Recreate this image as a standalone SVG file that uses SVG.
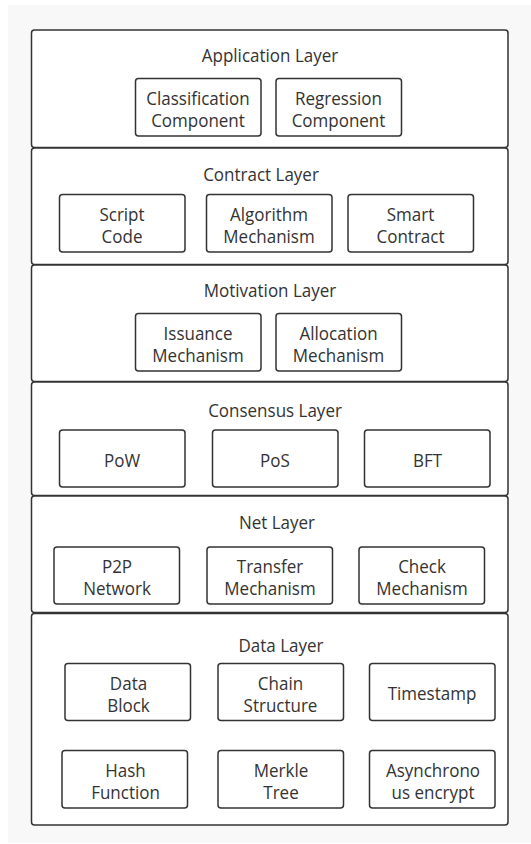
<svg xmlns="http://www.w3.org/2000/svg" width="531" height="844" viewBox="0 0 531 844">
<style>
.layer{fill:#fff;stroke:#333;stroke-width:1.5}
.box{fill:#fff;stroke:#333;stroke-width:1.5}
text{font-family:"Open Sans","Noto Sans","Liberation Sans",sans-serif;font-size:17px;fill:#333;text-anchor:middle}
</style>
<rect x="0" y="0" width="531" height="844" fill="#fff"/>
<rect x="8" y="5" width="523" height="838" fill="#f8f8f8"/>
<g id="application-layer">
<rect class="layer" x="31.5" y="30" width="476.5" height="117.5" rx="3"/>
<text transform="translate(270,62) scale(1,1.1)">Application Layer</text>
</g>
<g id="classification"><rect class="box" x="135.5" y="78.5" width="125.5" height="57.5" rx="3"/><text transform="translate(198,104.5) scale(1,1.1)">Classification</text><text transform="translate(198,126.5) scale(1,1.1)">Component</text></g>
<g id="regression"><rect class="box" x="276" y="78.5" width="125.5" height="57.5" rx="3"/><text transform="translate(338.5,104.5) scale(1,1.1)">Regression</text><text transform="translate(338.5,126.5) scale(1,1.1)">Component</text></g>

<g id="contract-layer">
<rect class="layer" x="31.5" y="148" width="476.5" height="116.5" rx="3"/>
<text transform="translate(261,180.5) scale(1,1.1)">Contract Layer</text>
</g>
<g id="script-code"><rect class="box" x="59.5" y="194.5" width="125.5" height="57.5" rx="3"/><text transform="translate(122,220.5) scale(1,1.1)">Script</text><text transform="translate(122,242.5) scale(1,1.1)">Code</text></g>
<g id="algorithm"><rect class="box" x="206.5" y="194.5" width="125.5" height="57.5" rx="3"/><text transform="translate(269,220.5) scale(1,1.1)">Algorithm</text><text transform="translate(269,242.5) scale(1,1.1)">Mechanism</text></g>
<g id="smart-contract"><rect class="box" x="348" y="194.5" width="125.5" height="57.5" rx="3"/><text transform="translate(410.5,220.5) scale(1,1.1)">Smart</text><text transform="translate(410.5,242.5) scale(1,1.1)">Contract</text></g>

<g id="motivation-layer">
<rect class="layer" x="31.5" y="265" width="476.5" height="116.5" rx="3"/>
<text transform="translate(270,297) scale(1,1.1)">Motivation Layer</text>
</g>
<g id="issuance"><rect class="box" x="135.5" y="313.5" width="125.5" height="57.5" rx="3"/><text transform="translate(198,339.5) scale(1,1.1)">Issuance</text><text transform="translate(198,361.5) scale(1,1.1)">Mechanism</text></g>
<g id="allocation"><rect class="box" x="276" y="313.5" width="125.5" height="57.5" rx="3"/><text transform="translate(338.5,339.5) scale(1,1.1)">Allocation</text><text transform="translate(338.5,361.5) scale(1,1.1)">Mechanism</text></g>

<g id="consensus-layer">
<rect class="layer" x="31.5" y="382" width="476.5" height="113.5" rx="3"/>
<text transform="translate(275,416.5) scale(1,1.1)">Consensus Layer</text>
</g>
<g id="pow"><rect class="box" x="59.5" y="430" width="125.5" height="57" rx="3"/><text transform="translate(122,466.5) scale(1,1.1)">PoW</text></g>
<g id="pos"><rect class="box" x="212.5" y="430" width="125.5" height="57" rx="3"/><text transform="translate(275,466.5) scale(1,1.1)">PoS</text></g>
<g id="bft"><rect class="box" x="364.5" y="430" width="125.5" height="57" rx="3"/><text transform="translate(427.5,466.5) scale(1,1.1)">BFT</text></g>

<g id="net-layer">
<rect class="layer" x="31.5" y="496" width="476.5" height="116.5" rx="3"/>
<text transform="translate(277,529) scale(1,1.1)">Net Layer</text>
</g>
<g id="p2p"><rect class="box" x="54" y="547" width="125.5" height="57" rx="3"/><text transform="translate(117,573) scale(1,1.1)">P2P</text><text transform="translate(117,595) scale(1,1.1)">Network</text></g>
<g id="transfer"><rect class="box" x="207" y="547" width="125.5" height="57" rx="3"/><text transform="translate(270,573) scale(1,1.1)">Transfer</text><text transform="translate(270,595) scale(1,1.1)">Mechanism</text></g>
<g id="check"><rect class="box" x="359" y="547" width="125.5" height="57" rx="3"/><text transform="translate(422,573) scale(1,1.1)">Check</text><text transform="translate(422,595) scale(1,1.1)">Mechanism</text></g>

<g id="data-layer">
<rect class="layer" x="31.5" y="613.5" width="476.5" height="211.5" rx="3"/>
<text transform="translate(281,652) scale(1,1.1)">Data Layer</text>
</g>
<g id="data-block"><rect class="box" x="65" y="663.5" width="125.5" height="57" rx="3"/><text transform="translate(128.5,689.5) scale(1,1.1)">Data</text><text transform="translate(128.5,711.5) scale(1,1.1)">Block</text></g>
<g id="chain-structure"><rect class="box" x="218" y="663.5" width="125.5" height="57" rx="3"/><text transform="translate(280.5,689.5) scale(1,1.1)">Chain</text><text transform="translate(280.5,711.5) scale(1,1.1)">Structure</text></g>
<g id="timestamp"><rect class="box" x="369.5" y="663.5" width="125.5" height="57" rx="3"/><text transform="translate(432,700) scale(1,1.1)">Timestamp</text></g>
<g id="hash-function"><rect class="box" x="62" y="750.5" width="125.5" height="57.5" rx="3"/><text transform="translate(125.5,777) scale(1,1.1)">Hash</text><text transform="translate(125.5,799) scale(1,1.1)">Function</text></g>
<g id="merkle-tree"><rect class="box" x="218" y="750.5" width="125.5" height="57.5" rx="3"/><text transform="translate(281,777) scale(1,1.1)">Merkle</text><text transform="translate(281,799) scale(1,1.1)">Tree</text></g>
<g id="async-encrypt"><rect class="box" x="369.5" y="750.5" width="125.5" height="57.5" rx="3"/><text transform="translate(433,777) scale(1,1.1)">Asynchrono</text><text transform="translate(433,799) scale(1,1.1)">us encrypt</text></g>
<g id="connectors"></g>
</svg>
